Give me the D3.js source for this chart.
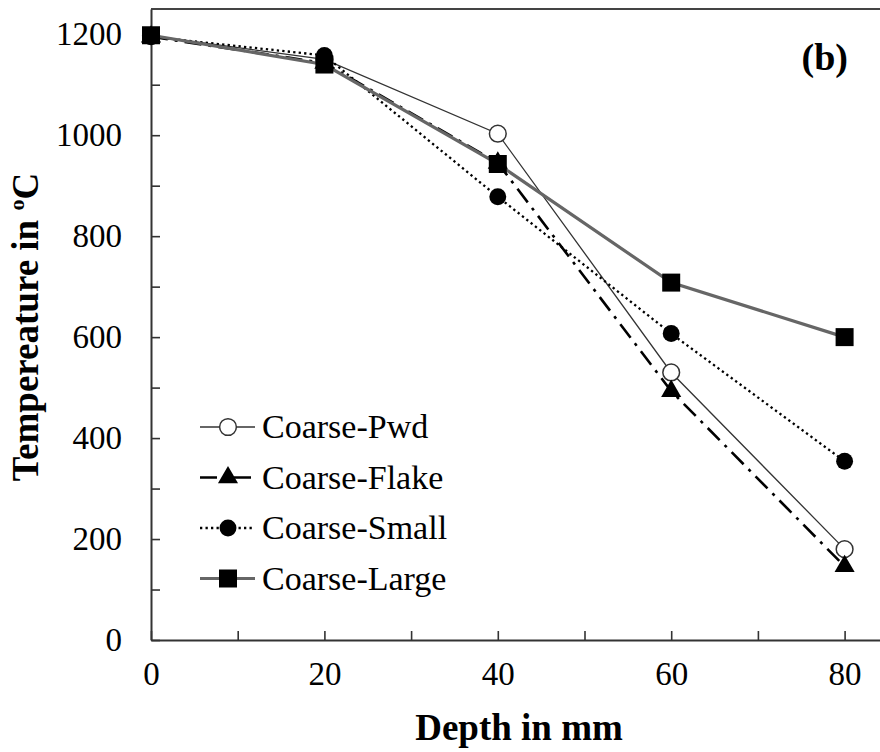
<!DOCTYPE html>
<html>
<head>
<meta charset="utf-8">
<script src="https://cdn.jsdelivr.net/npm/d3@7"></script>
<style>
  body { margin: 0; background: #fff; }
  text { font-family: "Liberation Serif", "Times New Roman", serif; fill: #000; }
</style>
</head>
<body>
<div id="chart"></div>
<script>
// depth (mm) and temperature (C)
var depths = [0, 20, 40, 60, 80];
var pwdTemps = [1197, 1150, 1003, 530, 180];
var flakeTemps = [1195, 1143, 945, 493, 146];
var smallTemps = [1195, 1158, 878, 607, 354];
var largeTemps = [1198, 1140, 943, 708, 600];
var seriesNames = ["Coarse-Pwd", "Coarse-Flake", "Coarse-Small", "Coarse-Large"];
var xTicks = [0, 10, 20, 30, 40, 50, 60, 70, 80];
var yTicks = [0, 100, 200, 300, 400, 500, 600, 700, 800, 900, 1000, 1100, 1200];

var svgWidth = 880;
var svgHeight = 752;

var svg = d3.select("#chart")
  .append("svg")
  .attr("width", svgWidth)
  .attr("height", svgHeight);

// x axis runs past the right edge of the picture (cropped in the original)
var x = d3.scaleLinear().domain([0, 90]).range([151, 151 + 90 * 8.67]);
var y = d3.scaleLinear().domain([0, 1250]).range([640, 9]);

var series = [
  { name: seriesNames[0], values: pwdTemps, symbol: d3.symbolCircle, size: 220, fill: "#fff",
    stroke: "#333", width: 1.3, dash: null },
  { name: seriesNames[1], values: flakeTemps, symbol: d3.symbolTriangle, size: 175, fill: "#000",
    stroke: "#000", width: 2.6, dash: "17,7,3,7" },
  { name: seriesNames[2], values: smallTemps, symbol: d3.symbolCircle, size: 225, fill: "#000",
    stroke: "#000", width: 2.3, dash: "2.3,3.2" },
  { name: seriesNames[3], values: largeTemps, symbol: d3.symbolSquare, size: 324, fill: "#000",
    stroke: "#666", width: 3.2, dash: null }
];

// top frame line
svg.append("line")
  .attr("x1", x(0)).attr("x2", x(90))
  .attr("y1", y(1250)).attr("y2", y(1250))
  .attr("stroke", "#444").attr("stroke-width", 2);

// axes
var bottomAxis = d3.axisBottom(x)
  .tickValues(xTicks)
  .tickSizeInner(-9).tickSizeOuter(0).tickPadding(22)
  .tickFormat(d => d % 20 === 0 ? d : "");
var leftAxis = d3.axisLeft(y)
  .tickValues(yTicks)
  .tickSizeInner(-9).tickSizeOuter(0).tickPadding(29)
  .tickFormat(d => d % 200 === 0 ? d : "");

var gx = svg.append("g")
  .attr("transform", "translate(0, 640)")
  .call(bottomAxis);
var gy = svg.append("g")
  .attr("transform", "translate(151, 0)")
  .call(leftAxis);

[gx, gy].forEach(function(g) {
  g.select(".domain").attr("stroke", "#333").attr("stroke-width", 2);
  g.selectAll(".tick line").attr("stroke", "#333").attr("stroke-width", 1.6);
  g.selectAll(".tick text")
    .attr("font-family", "Liberation Serif, serif")
    .attr("font-size", 33)
    .attr("fill", "#000");
});
gx.selectAll(".tick text").attr("dy", "0.71em").attr("y", 22);

// lines
var line = d3.line()
  .x((d, i) => x(depths[i]))
  .y(d => y(d));

series.forEach(function(s) {
  svg.append("path")
    .datum(s.values)
    .attr("fill", "none")
    .attr("stroke", s.stroke)
    .attr("stroke-width", s.width)
    .attr("stroke-dasharray", s.dash)
    .attr("d", line);
});

// markers
series.forEach(function(s) {
  svg.selectAll(null)
    .data(s.values)
    .enter()
    .append("path")
    .attr("transform", (d, i) => `translate(${x(depths[i])}, ${y(d)})`)
    .attr("d", d3.symbol().type(s.symbol).size(s.size))
    .attr("fill", s.fill)
    .attr("stroke", s.fill === "#fff" ? "#333" : "none")
    .attr("stroke-width", 1.5);
});

// legend
var legend = svg.append("g");
series.forEach(function(s, i) {
  var ly = 427 + i * 50.5;
  legend.append("line")
    .attr("x1", 200).attr("x2", 255)
    .attr("y1", ly).attr("y2", ly)
    .attr("stroke", s.stroke)
    .attr("stroke-width", s.width)
    .attr("stroke-dasharray", s.dash);
  legend.append("path")
    .attr("transform", `translate(228, ${ly})`)
    .attr("d", d3.symbol().type(s.symbol).size(s.size))
    .attr("fill", s.fill)
    .attr("stroke", s.fill === "#fff" ? "#333" : "none")
    .attr("stroke-width", 1.5);
  legend.append("text")
    .attr("x", 262)
    .attr("y", ly + 11)
    .attr("font-size", 34)
    .text(s.name);
});

// axis titles
svg.append("text")
  .attr("x", 519)
  .attr("y", 740)
  .attr("text-anchor", "middle")
  .attr("font-size", 37)
  .attr("font-weight", "bold")
  .text("Depth in mm");

var yTitle = svg.append("text")
  .attr("transform", "translate(38, 327) rotate(-90)")
  .attr("text-anchor", "middle")
  .attr("font-size", 37)
  .attr("font-weight", "bold");
yTitle.append("tspan").text("Tempereature in ");
yTitle.append("tspan").attr("font-size", 22).attr("dy", -14).text("o");
yTitle.append("tspan").attr("dy", 14).text("C");

// panel label
svg.append("text")
  .attr("x", 848)
  .attr("y", 70)
  .attr("text-anchor", "end")
  .attr("font-size", 38)
  .attr("font-weight", "bold")
  .text("(b)");
</script>
</body>
</html>
